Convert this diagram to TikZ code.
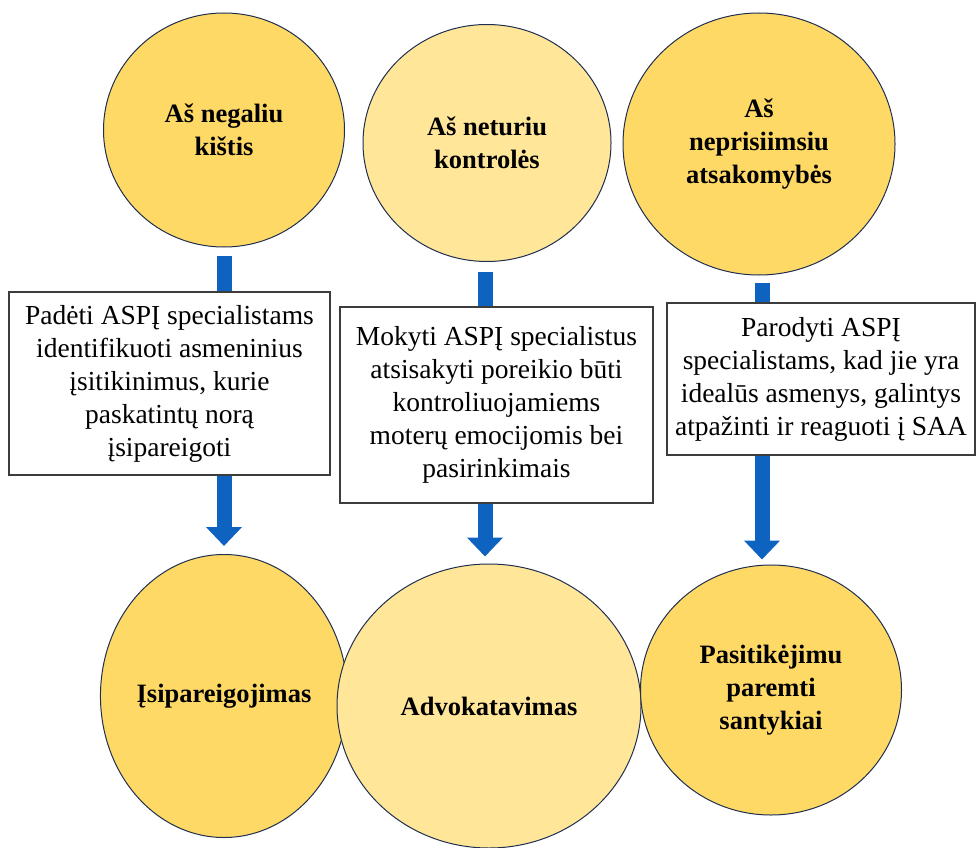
\documentclass[tikz,border=0pt]{standalone}
\usepackage{fontspec}
\setmainfont{Liberation Serif}
\usetikzlibrary{arrows.meta, backgrounds, calc, shapes.geometric}
\definecolor{goldfill}{RGB}{255,217,102}
\definecolor{lightgold}{RGB}{255,230,153}
\definecolor{bubbleline}{RGB}{31,47,80}
\definecolor{boxline}{RGB}{60,60,60}
\definecolor{arrowblue}{RGB}{14,98,192}

\begin{document}
\begin{tikzpicture}[
  x = 1pt, y = -1pt,
  bubble/.style = {ellipse, draw=bubbleline, line width=1pt, inner sep=0pt, align=center,
    font=\fontsize{26.5}{33}\selectfont\bfseries},
  dark bubble/.style = {bubble, fill=goldfill},
  light bubble/.style = {bubble, fill=lightgold},
  action box/.style = {rectangle, draw=boxline, line width=1.2pt, fill=white, inner sep=0pt,
    align=center, font=\fontsize{27.5}{33}\selectfont},
  block arrow/.style = {-{Triangle[width=35pt, length=19pt]}, line width=15pt, arrowblue}
]
  \useasboundingbox (0,0) rectangle (977,848);

  % beliefs
  \node[dark bubble, minimum width=241pt, minimum height=234pt] (kistis) at (224,130) {Aš negaliu\\kištis};
  \node[light bubble, minimum width=248pt, minimum height=237pt] (kontrole) at (487,143) {Aš neturiu\\kontrolės};
  \node[dark bubble, minimum width=272pt, minimum height=262pt] (atsakomybe) at (759,144) {Aš\\neprisiimsiu\\atsakomybės};

  % outcomes
  \node[dark bubble, minimum width=242pt, minimum height=283pt] (isipareigojimas) at (224,696) {Įsipareigojimas};
  \node[light bubble, minimum width=304pt, minimum height=284pt] (advokatavimas) at (489,706) {Advokatavimas};
  \node[dark bubble, minimum width=261pt, minimum height=250pt] (santykiai) at (771,690) {Pasitikėjimu\\paremti\\santykiai};

  % actions
  \node[action box, minimum width=321pt, minimum height=183pt] (padeti) at (169.5,383.5)
    {Padėti ASPĮ specialistams\\identifikuoti asmeninius\\įsitikinimus, kurie\\paskatintų norą\\įsipareigoti};
  \node[action box, minimum width=313pt, minimum height=196pt] (mokyti) at (496.5,405)
    {Mokyti ASPĮ specialistus\\atsisakyti poreikio būti\\kontroliuojamiems\\moterų emocijomis bei\\pasirinkimais};
  \node[action box, minimum width=308pt, minimum height=152pt] (parodyti) at (821,379)
    {Parodyti ASPĮ\\specialistams, kad jie yra\\idealūs asmenys, galintys\\atpažinti ir reaguoti į SAA};

  \begin{scope}[on background layer]
    \draw[block arrow] ($(kistis.south)+(0,8)$) -- ($(kistis.south |- isipareigojimas.north)+(0,-8)$);
    \draw[block arrow] ($(kontrole.south)+(-2,10)$) -- ($(kontrole.south |- advokatavimas.north)+(-2,-7)$);
    \draw[block arrow] ($(atsakomybe.south)+(3,7)$) -- ($(atsakomybe.south |- santykiai.north)+(3,-5)$);
  \end{scope}
\end{tikzpicture}
\end{document}
